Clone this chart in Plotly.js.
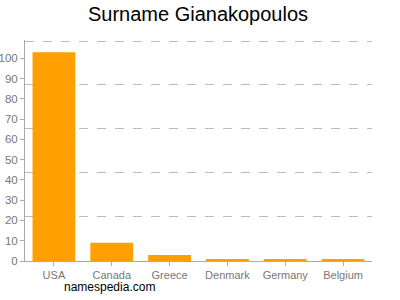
<!DOCTYPE html>
<html><head><meta charset="utf-8">
<script src="https://cdn.plot.ly/plotly-3.0.1.min.js"></script>
<style>html,body{margin:0;padding:0;background:#fff;}#chart{width:400px;height:300px;}</style>
</head><body><div id="chart"></div>
<script>
const countries = ["USA", "Canada", "Greece", "Denmark", "Germany", "Belgium"];
const counts = [103, 9, 3, 1, 1, 1];
const yTicks = [0, 10, 20, 30, 40, 50, 60, 70, 80, 90, 100];
const yMax = 109;
const gridVals = [0, 21.8, 43.6, 65.4, 87.2, 108.3];

const data = [
  {type: "bar", x: countries, y: counts, marker: {color: "#ffa000"}, hoverinfo: "x+y"},
  {type: "scatter", x: [countries[0]], y: [0], yaxis: "y2", mode: "none", showlegend: false, hoverinfo: "skip"}
];
const layout = {
  width: 400, height: 300,
  margin: {l: 25, r: 28, t: 40, b: 39},
  paper_bgcolor: "#fff", plot_bgcolor: "rgba(0,0,0,0)",
  showlegend: false,
  bargap: 0.26,
  title: {text: "Surname Gianakopoulos", x: 0.495, xanchor: "center", y: 0.952, yanchor: "middle",
          font: {family: "Liberation Sans, Arial, sans-serif", size: 20, color: "#000"}},
  font: {family: "Liberation Sans, Arial, sans-serif", size: 11, color: "#777"},
  xaxis: {showline: true, linecolor: "#aaa", linewidth: 1, ticks: "outside", ticklen: 4, tickcolor: "#aaa",
          showgrid: false, tickfont: {size: 11, color: "#777"}, fixedrange: true},
  yaxis: {range: [0, yMax], tickvals: yTicks, ticktext: yTicks.map(String), showline: true, linecolor: "#aaa",
          linewidth: 1, ticks: "outside", ticklen: 4, tickcolor: "#aaa", showgrid: false, zeroline: false,
          tickfont: {size: 11.5, color: "#777"}, fixedrange: true},
  yaxis2: {overlaying: "y", range: [0, yMax], tickvals: gridVals, showticklabels: false, ticks: "",
           showgrid: true, gridcolor: "#bbb", griddash: "dash", gridwidth: 1, zeroline: false, showline: false, fixedrange: true},
  annotations: [{text: "namespedia.com", xref: "paper", yref: "paper", x: 0.107, y: -0.117, xanchor: "left", yanchor: "middle",
                 showarrow: false, font: {family: "Liberation Sans, Arial, sans-serif", size: 12, color: "#000"}}]
};
Plotly.newPlot("chart", data, layout, {displayModeBar: false, staticPlot: true});
</script></body></html>
